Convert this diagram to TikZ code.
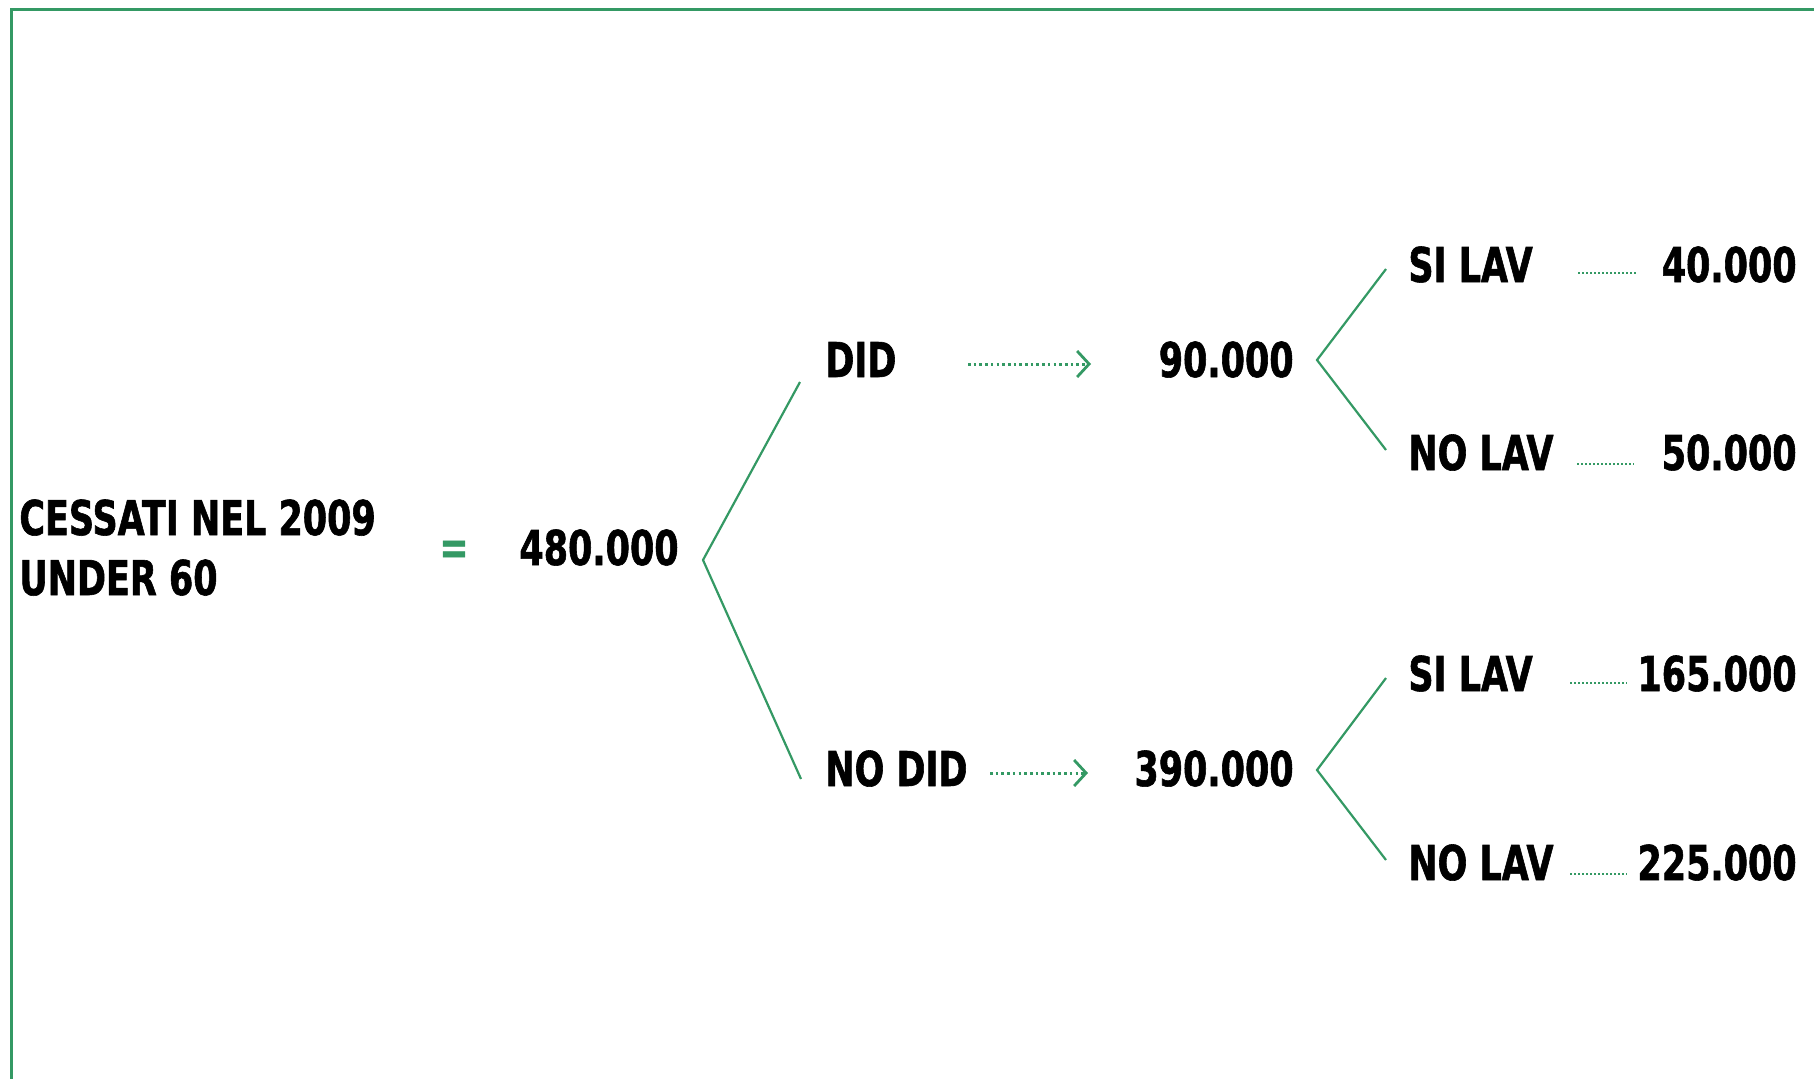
\documentclass[tikz,border=0pt]{standalone}
\usepackage{fontspec}
\usepackage{tikz}
\usetikzlibrary{arrows.meta}
\newfontfamily\treefont[FakeStretch=0.728, FakeBold=1.2]{DejaVu Sans}
\definecolor{treegreen}{RGB}{52,153,100}
\newcommand{\figTip}{{Straight Barb[length=6pt, width=13pt, line width=1.4pt]}}

\begin{document}
\begin{tikzpicture}[x=0.5pt, y=-0.5pt, font=\treefont\bfseries\fontsize{24}{30}\selectfont,
	lbl/.style={inner sep=0pt, anchor=base west},
	num/.style={inner sep=0pt, anchor=base east},
	frame/.style={draw=treegreen, line width=1.5pt},
	branch/.style={draw=treegreen, line width=1.1pt},
	flow/.style={draw=treegreen, line width=1.5pt, dash pattern=on 1.3pt off 1.55pt},
	leader/.style={draw=treegreen, line width=0.9pt, dash pattern=on 1pt off 1pt}]
	\def\Xa{825}
	\def\Xb{1294}
	\def\Xc{1408}
	\def\Xd{1797}
	
	\useasboundingbox (0,0) rectangle (1814,1078);
	\draw[frame]	(1816,9.5) -- (11,9.5) -- (11,1080);
	
	\node[lbl, anchor=north west, align=left] (total) at (19,499) {CESSATI NEL 2009\\UNDER 60};
	\node[text=treegreen, inner sep=0pt, anchor=base] (eq) at (454,564) {=};
	\node[num] (n480) at (679,565) {480.000};
	
	\node[lbl] (did) at (\Xa,377) {DID};
	\node[num] (n90) at (\Xb,377) {90.000};
	\node[lbl] (nodid) at (\Xa,786) {NO DID};
	\node[num] (n390) at (\Xb,786) {390.000};
	
	\node[lbl] (silavA) at (\Xc,282) {SI LAV};
	\node[num] (n40) at (\Xd,282) {40.000};
	\node[lbl] (nolavA) at (\Xc,470) {NO LAV};
	\node[num] (n50) at (\Xd,470) {50.000};
	\node[lbl] (silavB) at (\Xc,691) {SI LAV};
	\node[num] (n165) at (\Xd,691) {165.000};
	\node[lbl] (nolavB) at (\Xc,880) {NO LAV};
	\node[num] (n225) at (\Xd,880) {225.000};
	
	\draw[branch]	([shift={(-25,5)}]did.base west) -- ([shift={(24,-5)}]n480.base east) -- ([shift={(-24,-7)}]nodid.base west);
	\draw[branch]	([shift={(-22,-13)}]silavA.base west) -- ([shift={(23,-17)}]n90.base east) -- ([shift={(-22,-20)}]nolavA.base west);
	\draw[branch]	([shift={(-22,-13)}]silavB.base west) -- ([shift={(23,-16)}]n390.base east) -- ([shift={(-22,-20)}]nolavB.base west);
	
	\draw[flow, -\figTip]	([shift={(143,-13)}]did.base west) -- ([shift={(-203,-13)}]n90.base east);
	\draw[flow, -\figTip]	([shift={(165,-13)}]nodid.base west) -- ([shift={(-206,-13)}]n390.base east);
	
	\draw[leader]	([shift={(170,-9)}]silavA.base west) -- ([shift={(-161,-9)}]n40.base east);
	\draw[leader]	([shift={(169,-6)}]nolavA.base west) -- ([shift={(-163,-6)}]n50.base east);
	\draw[leader]	([shift={(162,-8)}]silavB.base west) -- ([shift={(-170,-8)}]n165.base east);
	\draw[leader]	([shift={(162,-6)}]nolavB.base west) -- ([shift={(-170,-6)}]n225.base east);
\end{tikzpicture}
\end{document}
